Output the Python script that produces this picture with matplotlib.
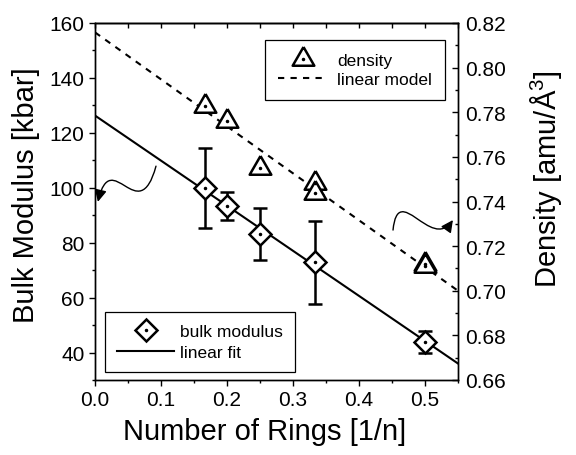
import matplotlib
matplotlib.use('Agg')
import matplotlib.pyplot as plt
from matplotlib.patches import FancyArrowPatch
from matplotlib.path import Path
from matplotlib.ticker import MultipleLocator

plt.rcParams['font.family'] = ['Liberation Sans', 'DejaVu Sans']
plt.rcParams['mathtext.default'] = 'regular'

# bulk modulus (left axis)
ring_x = [1/6, 0.2, 0.25, 1/3, 0.5]
bulk = [99.8, 93.4, 83.2, 72.8, 43.9]
bulk_err = [14.6, 5.0, 9.6, 15.2, 4.0]
fit_x = [0.0, 0.55]
fit_y = [126.3, 36.0]

# density (right axis)
dens_x = [1/6, 0.2, 0.25, 1/3, 1/3, 0.5, 0.5]
dens = [0.7829, 0.7762, 0.7550, 0.7484, 0.7439, 0.7120, 0.7112]
model_x = [0.0, 0.55]
model_y = [0.8158, 0.7000]

tri = [(0, 1), (-0.866, -0.5), (0.866, -0.5), (0, 1)]

fig = plt.figure(figsize=(5.76, 4.56), dpi=100)
ax = fig.add_axes([95/576, 1 - 381/456, 363/576, 357/456])
ax2 = ax.twinx()

# left: fit + bulk modulus
ax.plot(fit_x, fit_y, color='black', lw=1.5, zorder=2)
ax.errorbar(ring_x, bulk, yerr=bulk_err, fmt='none', ecolor='black',
            elinewidth=1.8, capsize=4.8, capthick=1.8, zorder=3)
h_dia, = ax.plot(ring_x, bulk, ls='none', marker='D', ms=11, mfc='white',
                 mec='black', mew=1.8, zorder=4)
h_dot, = ax.plot(ring_x, bulk, ls='none', marker='.', ms=3, color='black', zorder=5)
h_fit, = ax.plot([], [], color='black', lw=1.5)

# right: density + model
ax2.plot(model_x, model_y, color='black', lw=1.5, ls=(0, (3, 3)), zorder=2)
h_tri, = ax2.plot(dens_x, dens, ls='none', marker=tri, ms=18, mfc='white',
                  mec='black', mew=1.8, zorder=4)
h_dot2, = ax2.plot(dens_x, dens, ls='none', marker='.', ms=3, color='black', zorder=5)
h_mod, = ax2.plot([], [], color='black', lw=1.5, ls=(0, (3, 3)))

ax.set_xlim(0, 0.55)
ax.set_ylim(30, 160)
ax2.set_ylim(0.66, 0.82)

ax.xaxis.set_major_locator(MultipleLocator(0.1))
ax.xaxis.set_minor_locator(MultipleLocator(0.05))
ax.yaxis.set_major_locator(MultipleLocator(20))
ax.yaxis.set_minor_locator(MultipleLocator(10))
ax2.yaxis.set_major_locator(MultipleLocator(0.02))
ax2.yaxis.set_minor_locator(MultipleLocator(0.01))
ax2.yaxis.set_major_formatter(matplotlib.ticker.FormatStrFormatter('%.2f'))

for a in (ax, ax2):
    for s in a.spines.values():
        s.set_linewidth(1.0)
ax.tick_params(axis='both', which='major', direction='out', length=4, width=1.0, labelsize=15)
ax.tick_params(axis='both', which='minor', direction='out', length=2.5, width=1.0)
ax2.tick_params(axis='y', which='major', direction='in', length=4, width=1.0, labelsize=15, pad=5)
ax2.tick_params(axis='y', which='minor', direction='in', length=2.5, width=1.0)

top = ax.secondary_xaxis('top')
top.xaxis.set_major_locator(MultipleLocator(0.05))
top.tick_params(direction='in', length=3.5, width=1.0, labeltop=False)
top.spines['top'].set_linewidth(1.0)

ax.set_xlabel('Number of Rings [1/n]', fontsize=21)
ax.set_ylabel('Bulk Modulus [kbar]', fontsize=21)
ax2.set_ylabel('Density [amu/Å$^3$]', fontsize=21, rotation=90)
ax.xaxis.set_label_coords(0.468, -0.105)
ax.yaxis.set_label_coords(-0.152, 0.52)
ax2.yaxis.set_label_coords(1.193, 0.565)

leg1 = ax2.legend([(h_tri, h_dot2), h_mod], ['density', 'linear model'],
                  loc='upper right', bbox_to_anchor=(0.964, 0.952), borderaxespad=0,
                  fontsize=12.5, fancybox=False, edgecolor='black', framealpha=1,
                  handlelength=2.9, handletextpad=0.5, labelspacing=0.2,
                  borderpad=0.75)
leg1.get_frame().set_linewidth(0.9)
leg2 = ax.legend([(h_dia, h_dot), h_fit], ['bulk modulus', 'linear fit'],
                 loc='lower left', bbox_to_anchor=(0.0275, 0.0224), borderaxespad=0,
                 fontsize=12.5, fancybox=False, edgecolor='black', framealpha=1,
                 handlelength=3.3, handletextpad=0.3, labelspacing=0.3,
                 borderpad=0.7)
leg2.get_frame().set_linewidth(0.9)

# curly arrows pointing to the axes
left_path = Path([(0.168, 0.599), (0.120, 0.420), (0.045, 0.660), (0.008, 0.499)],
                 [Path.MOVETO, Path.CURVE4, Path.CURVE4, Path.CURVE4])
right_path = Path([(0.821, 0.420), (0.835, 0.560), (0.925, 0.360), (0.986, 0.448)],
                  [Path.MOVETO, Path.CURVE4, Path.CURVE4, Path.CURVE4])
for p in (left_path, right_path):
    ax2.add_patch(FancyArrowPatch(path=p, arrowstyle='-|>,head_length=0.6,head_width=0.3',
                                  mutation_scale=12, color='black', lw=1.0,
                                  transform=ax.transAxes))

plt.savefig('out.png', dpi=100)
